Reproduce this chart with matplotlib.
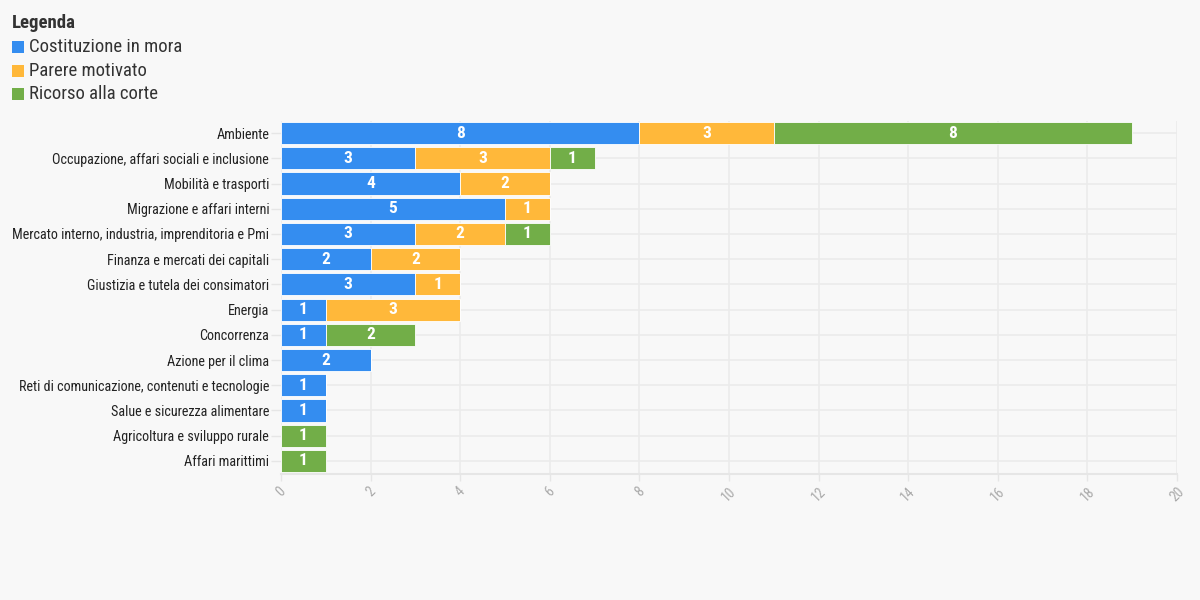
import matplotlib
matplotlib.use("Agg")
import matplotlib.pyplot as plt
from matplotlib.patches import Rectangle
from matplotlib import font_manager

names = [f.name for f in font_manager.fontManager.ttflist]
FAM = ['Roboto Condensed', 'Liberation Sans Narrow', 'Roboto', 'DejaVu Sans']
FAM = [f for f in FAM if f in names] + ['DejaVu Sans']
plt.rcParams['font.family'] = FAM

categories = [
    "Ambiente",
    "Occupazione, affari sociali e inclusione",
    "Mobilità e trasporti",
    "Migrazione e affari interni",
    "Mercato interno, industria, imprenditoria e Pmi",
    "Finanza e mercati dei capitali",
    "Giustizia e tutela dei consimatori",
    "Energia",
    "Concorrenza",
    "Azione per il clima",
    "Reti di comunicazione, contenuti e tecnologie",
    "Salue e sicurezza alimentare",
    "Agricoltura e sviluppo rurale",
    "Affari marittimi",
]
costituzione = [8, 3, 4, 5, 3, 2, 3, 1, 1, 2, 1, 1, 0, 0]
parere = [3, 3, 2, 1, 2, 2, 1, 3, 0, 0, 0, 0, 0, 0]
ricorso = [8, 1, 0, 0, 1, 0, 0, 0, 2, 0, 0, 0, 1, 1]
series_names = ["Costituzione in mora", "Parere motivato", "Ricorso alla corte"]
colors = ["#348df0", "#ffb83a", "#72ae48"]
xticks = list(range(0, 21, 2))

bg = "#f8f8f8"
fig = plt.figure(figsize=(12, 6), dpi=100, facecolor=bg)
ax = fig.add_axes([281/1200, 1-473.5/600, (1177-281)/1200, (473.5-120.5)/600])
ax.set_facecolor(bg)

y = list(range(len(categories)))
left = [0]*len(categories)
for vals, col in zip([costituzione, parere, ricorso], colors):
    ax.barh(y, vals, left=left, height=0.88, color=col, edgecolor='white',
            linewidth=0.6, zorder=3)
    for yi, v, l in zip(y, vals, left):
        if v > 0:
            ax.text(l + v/2, yi, str(v), ha='center', va='center', color='white',
                    fontsize=12.5, fontweight='bold', zorder=4)
    left = [a + b for a, b in zip(left, vals)]

ax.set_xlim(0, 20)
ax.set_ylim(len(categories)-0.5, -0.5)
ax.set_xticks(xticks)
ax.set_xticklabels([str(t) for t in xticks], rotation=45, ha='center',
                   color='#aaaaaa', fontsize=10)
ax.set_yticks(y)
ax.set_yticklabels(categories, fontsize=10.2, color='#222222')
ax.tick_params(axis='x', length=5, color='#e6e6e6', width=1, pad=3)
ax.tick_params(axis='y', length=7, color='#e6e6e6', width=1, pad=1.5)
ax.grid(True, color='#ebebeb', linewidth=1.2, zorder=0)
ax.set_axisbelow(True)
for s in ['top', 'right', 'left']:
    ax.spines[s].set_visible(False)
ax.spines['bottom'].set_color('#e6e6e6')
ax.spines['bottom'].set_linewidth(1.5)

# legend
fig.text(12/1200, 1-23/600, "Legenda", fontsize=13.5, fontweight='bold',
         color='#333333', va='center', ha='left')
for i, (n, c) in enumerate(zip(series_names, colors)):
    yc = [47, 71, 94][i]
    fig.patches.append(Rectangle((12/1200, 1-(yc+6)/600), 12/1200, 12/600,
                                 transform=fig.transFigure, facecolor=c,
                                 edgecolor='none'))
    fig.text(29/1200, 1-yc/600, n, fontsize=13.5, color='#333333',
             va='center', ha='left')

fig.savefig("out.png", dpi=100, facecolor=bg)
